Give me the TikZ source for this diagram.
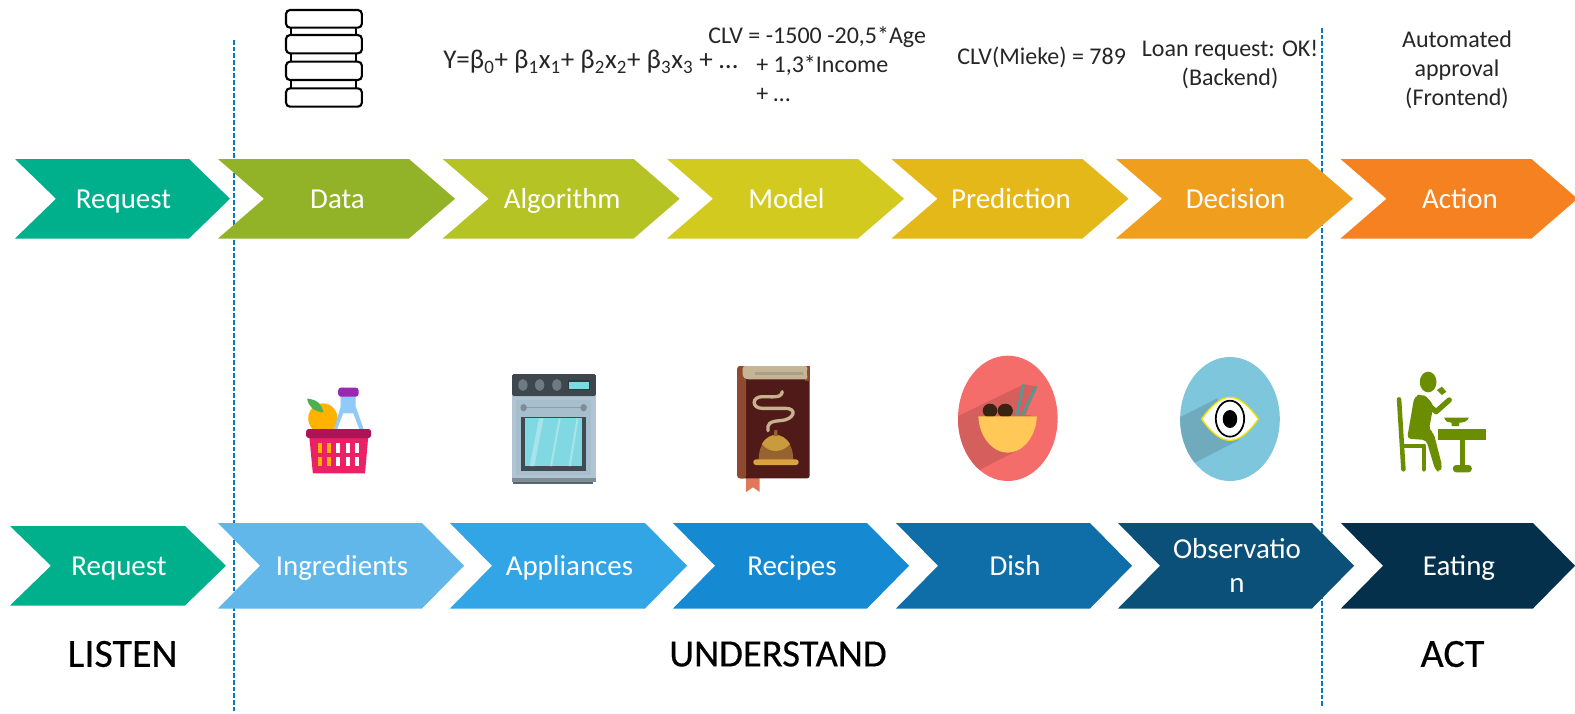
\documentclass[tikz,border=0pt]{standalone}
\usepackage{fontspec}
\setmainfont{Carlito}
\newfontfamily\headfont[FakeBold=0.35]{Carlito}
\definecolor{cTeal}{HTML}{00B08C}
\definecolor{cA}{HTML}{92B327}
\definecolor{cB}{HTML}{B5C424}
\definecolor{cC}{HTML}{D2CA1E}
\definecolor{cD}{HTML}{E5B81A}
\definecolor{cE}{HTML}{EF9E1E}
\definecolor{cF}{HTML}{F68121}
\definecolor{dA}{HTML}{62B7EA}
\definecolor{dB}{HTML}{31A5E6}
\definecolor{dC}{HTML}{158AD3}
\definecolor{dD}{HTML}{0F6EA8}
\definecolor{dE}{HTML}{0A5078}
\definecolor{dF}{HTML}{05304C}
\definecolor{dashC}{HTML}{0A78C8}
\definecolor{olive}{HTML}{6B8E00}
\newcommand{\cs}{\vphantom{Qg}}
\tikzset{
  HTML/.code={\definecolor{tmpc}{HTML}{#1}\pgfkeysalso{/tikz/color=tmpc}},
  chevlabel/.style={text=white,font=\fontsize{21.7}{25.5}\selectfont,align=center,inner sep=0pt,xshift=.75pt,yshift=-1.9pt},
  toptext/.style={text=black!85,font=\fontsize{18}{21.75}\selectfont,align=center,inner sep=0pt},
  headtext/.style={text=black,font=\headfont\fontsize{30}{36}\selectfont,inner sep=0pt},
  divider/.style={dashC,line width=1.3pt,dash pattern=on 3.5pt off 1.5pt},
  dbrow/.style={draw=black,fill=white,line width=1.6pt,rounded corners=3pt},
}
% name, left, top, bottom, width, depth, colour, text
\newcommand{\chev}[8]{%
  \fill[#7] (#2,#3) -- ({#2+#5-#6},#3) -- ({#2+#5},{(#3+#4)/2}) -- ({#2+#5-#6},#4)
     -- (#2,#4) -- ({#2+#6},{(#3+#4)/2}) -- cycle;
  \node[chevlabel] (#1) at ({#2+#5/2},{(#3+#4)/2}) {\cs #8};
}
\begin{document}
\begin{tikzpicture}[x=.75pt,y=-.75pt]
\useasboundingbox (0,0) rectangle (1575,714);
\fill[white] (0,0) rectangle (1575,714);

% dividers
\coordinate (d1a) at (234,40); \coordinate (d1b) at (234,712);
\coordinate (d2a) at (1322,28);  \coordinate (d2b) at (1322,706);
\draw[divider] (d1a) -- (d1b);
\draw[divider] (d2a) -- (d2b);

% top row
\chev{t1}{15}{159}{238.5}{215}{41}{cTeal}{Request}
\chev{t2}{218}{159}{238.5}{237}{46}{cA}{Data}
\chev{t3}{442.7}{159}{238.5}{237}{46}{cB}{Algorithm}
\chev{t4}{667}{159}{238.5}{237}{46}{cC}{Model}
\chev{t5}{891.5}{159}{238.5}{237}{46}{cD}{Prediction}
\chev{t6}{1116}{159}{238.5}{237}{46}{cE}{Decision}
\chev{t7}{1340.5}{159}{238.5}{237}{46}{cF}{Action}

% bottom row
\chev{b1}{10}{526}{605.5}{216}{41}{cTeal}{Request}
\chev{b2}{218}{523}{608.5}{246}{42}{dA}{Ingredients}
\chev{b3}{450}{523}{608.5}{237}{42}{dB}{Appliances}
\chev{b4}{673}{523}{608.5}{236}{42}{dC}{Recipes}
\chev{b5}{896}{523}{608.5}{236}{42}{dD}{Dish}
\chev{b6}{1118}{523}{608.5}{236}{42}{dE}{Observatio\\\cs n}
\chev{b7}{1341}{523}{608.5}{234}{42}{dF}{Eating}

% headings
\node[headtext] (listen) at (122.5,654) {LISTEN};
\node[headtext,font=\headfont\fontsize{29}{36}\selectfont] (understand) at (778,654) {UNDERSTAND};
\node[headtext] (act) at (1452.5,654) {ACT};

% top texts
\node[toptext,font=\fontsize{20.3}{24}\selectfont,anchor=west] (formula) at (443,62)
  {Y=β\textsubscript{0}+ β\textsubscript{1}x\textsubscript{1}+ β\textsubscript{2}x\textsubscript{2}+ β\textsubscript{3}x\textsubscript{3} + …};
\node[toptext,anchor=west] (clv1) at (708,37) {CLV = -1500 -20,5*Age};
\node[toptext,anchor=west] (clv2) at (756,66) {+ 1,3*Income};
\node[toptext,anchor=west] (clv3) at (756,95) {+ …};
\node[toptext,anchor=west] (mieke) at (957,57) {CLV(Mieke) = 789};
\node[toptext] (loan) at (1230,64.5) {Loan request: OK!\\(Backend)};
\node[toptext] (auto) at (1457,70) {Automated\\approval\\(Frontend)};

% database icon
\begin{scope}[shift={(260,0)},x=.3252pt,y=-.25pt]
  \draw[line width=1.6pt] (72,30) -- (72,320) (222,30) -- (222,320);
  \draw[dbrow] (60,30) rectangle (235,83);
  \draw[dbrow] (60,105) rectangle (235,160);
  \draw[dbrow] (60,185) rectangle (235,240);
  \draw[dbrow] (60,265) rectangle (235,320);
\end{scope}

% basket, oven, book
\begin{scope}[shift={(280,350)},x=.2679pt,y=-.25pt]
  % orange and leaf
  \fill[HTML=FFB300] (120,205) ellipse [x radius=41,y radius=45];
  \fill[HTML=4CAF50] (76,146) .. controls (105,148) and (118,165) .. (122,187) .. controls (95,185) and (80,170) .. (76,146) -- cycle;
  % bottle
  \fill[HTML=90CAF9] (170,135) -- (212,135) -- (212,170) -- (235,240) -- (150,240) -- (170,170) -- cycle;
  \fill[white] (177,190) -- (205,190) -- (222,238) -- (160,238) -- cycle;
  \fill[HTML=9C27B0,rounded corners=2pt] (163,113) rectangle (220,140);
  % basket
  \fill[HTML=EC2065] (82,260) -- (247,260) -- (238,370) -- (92,370) -- cycle;
  \fill[HTML=AD1457,rounded corners=2pt] (73,237) rectangle (255,264);
  \foreach \yy in {280,320} {
    \fill[HTML=FFB300] (106,\yy) rectangle ++(12,28);
    \fill[HTML=FFB300] (132,\yy) rectangle ++(11,28);
    \fill[white] (158,\yy) rectangle ++(11,28);
    \fill[white] (184,\yy) rectangle ++(11,28);
    \fill[white] (210,\yy) rectangle ++(11,28);
  }
  % oven
  \fill[HTML=B0C4D2] (650,130) rectangle (884,390);
  \fill[HTML=A7BECD] (660,150) rectangle (872,375);
  \fill[HTML=3E474D,rounded corners=1pt] (650,72) rectangle (884,138);
  \foreach \xx in {680,727,775} \fill[HTML=6E7A82] (\xx,105) ellipse [x radius=13,y radius=18];
  \fill[HTML=2E3A40] (805,91) rectangle (869,121);
  \fill[HTML=7FD8E0] (809,96) rectangle (865,117);
  \draw[HTML=8F9FA8,line width=1pt] (682,173) -- (850,173);
  \fill[HTML=7F8C95] (682,173) ellipse [x radius=9,y radius=11];
  \fill[HTML=7F8C95] (850,173) ellipse [x radius=9,y radius=11];
  \fill[HTML=3F4B50] (674,200) rectangle (858,363);
  \fill[HTML=80D8E2] (686,205) rectangle (846,348);
  \fill[HTML=A8E3EA] (725,205) -- (738,205) -- (712,348) -- (699,348) -- cycle;
  \fill[HTML=A8E3EA] (780,205) -- (786,205) -- (762,348) -- (756,348) -- cycle;
  \fill[HTML=A8E3EA] (830,205) -- (836,205) -- (814,348) -- (808,348) -- cycle;
  \fill[HTML=7F8C95] (650,385) rectangle (884,397);
  \fill[HTML=5A666D] (653,397) rectangle (877,401);
  % book
  \fill[HTML=E0795A] (1305,380) -- (1343,380) -- (1343,426) -- (1324,412) -- (1305,426) -- cycle;
  \fill[HTML=4F1A18,rounded corners=2pt] (1282,48) rectangle (1483,385);
  \fill[HTML=8E4A2F,rounded corners=2pt] (1280,48) -- (1305,48) -- (1305,385) -- (1280,385) -- cycle;
  \fill[HTML=8E4A2F] (1470,48) -- (1483,48) -- (1483,92) -- (1470,92) -- cycle;
  \fill[HTML=C5B595,rounded corners=2pt] (1295,48) -- (1478,48) -- (1474,68) -- (1478,88) -- (1305,88) -- (1295,80) -- cycle;
  \fill[HTML=A9A08A] (1330,65) rectangle (1465,75);
  \draw[HTML=C8B18E,line width=2.5pt,line cap=round]
    (1406,125) .. controls (1404,145) and (1380,140) .. (1350,140)
    .. controls (1320,140) and (1320,175) .. (1350,175) -- (1415,175)
    .. controls (1450,175) and (1440,210) .. (1400,212)
    .. controls (1370,214) and (1364,222) .. (1366,242);
  \fill[HTML=96622D] (1340,330) .. controls (1340,280) and (1365,255) .. (1388,255)
     .. controls (1412,255) and (1437,280) .. (1437,330) -- cycle;
  \fill[HTML=C99A3E] (1349,282) .. controls (1360,262) and (1375,255) .. (1388,255)
     .. controls (1403,255) and (1418,265) .. (1428,282)
     .. controls (1405,310) and (1370,310) .. (1349,282) -- cycle;
  \fill[HTML=96622D] (1383,258) -- (1384,240) -- (1392,240) -- (1393,258) -- cycle;
  \fill[HTML=D9A440,rounded corners=2pt] (1325,328) rectangle (1452,345);
\end{scope}

% dish, eye, person
\begin{scope}[shift={(930,340)},x=.2727pt,y=-.25pt]
  % dish
  \fill[HTML=F46D6B] (214,235) ellipse [x radius=137,y radius=188];
  \begin{scope}
    \clip (214,235) ellipse [x radius=137,y radius=188];
    \fill[HTML=D45F5C] (70,232) -- (258,133) -- (295,140) -- (262,225) -- (294,229) -- (235,335) -- (135,390) -- (70,390) -- cycle;
  \end{scope}
  \draw[HTML=4E9C93,line width=2pt,line cap=round] (257,135) -- (238,228);
  \draw[HTML=4E9C93,line width=2pt,line cap=round] (291,141) -- (253,228);
  \fill[HTML=3B2314] (165,212) ellipse [x radius=20,y radius=21];
  \fill[HTML=3B2314] (207,212) ellipse [x radius=21,y radius=21];
  \fill[HTML=FFC857] (133,229) -- (294,229) .. controls (292,290) and (255,338) .. (214,338) .. controls (172,338) and (135,290) .. (133,229) -- cycle;
  % eye
  \fill[HTML=7EC6DC] (825,237) ellipse [x radius=137,y radius=186];
  \begin{scope}
    \clip (825,237) ellipse [x radius=137,y radius=186];
    \fill[HTML=6FAABD] (680,236) -- (790,175) -- (850,300) -- (730,367) -- (680,367) -- cycle;
  \end{scope}
  \draw[HTML=F2E400,fill=white,line width=1pt] (747,237) .. controls (775,195) and (800,172) .. (825,172)
    .. controls (850,172) and (875,195) .. (903,237)
    .. controls (875,280) and (850,301) .. (825,301)
    .. controls (800,301) and (775,280) .. (747,237) -- cycle;
  \draw[black,line width=1.3pt] (825,236) ellipse [x radius=39,y radius=54];
  \fill[black] (825,237) ellipse [x radius=20,y radius=27];
  % person
  \fill[olive] (1370,126) ellipse [x radius=23,y radius=31];
  \draw[olive,line width=3.4pt,line cap=round] (1290,178) -- (1302,388);
  \draw[olive,line width=3.4pt,line cap=round] (1358,318) -- (1358,388);
  \draw[olive,line width=3.4pt] (1300,318) -- (1358,318);
  \fill[olive,rounded corners=3pt] (1332,170) -- (1360,163) -- (1385,195) -- (1372,270) -- (1385,278) -- (1409,380) -- (1402,396) -- (1390,392) -- (1365,300) -- (1312,296) -- cycle;
  \draw[olive,line width=4pt,line cap=round,line join=round] (1345,172) -- (1392,215) -- (1428,180);
  \fill[olive] (1394,150) -- (1408,140) -- (1420,155) -- (1408,165) -- cycle;
  \fill[olive] (1414,233) -- (1482,233) .. controls (1478,245) and (1465,248) .. (1456,248) -- (1455,258) -- (1435,258) -- (1434,248) .. controls (1425,248) and (1418,245) .. (1414,233) -- cycle;
  \fill[olive] (1397,268) rectangle (1530,300);
  \fill[olive] (1457,300) rectangle (1472,380);
  \fill[olive,rounded corners=2.5pt] (1438,375) rectangle (1490,397);
\end{scope}
\end{tikzpicture}
\end{document}
